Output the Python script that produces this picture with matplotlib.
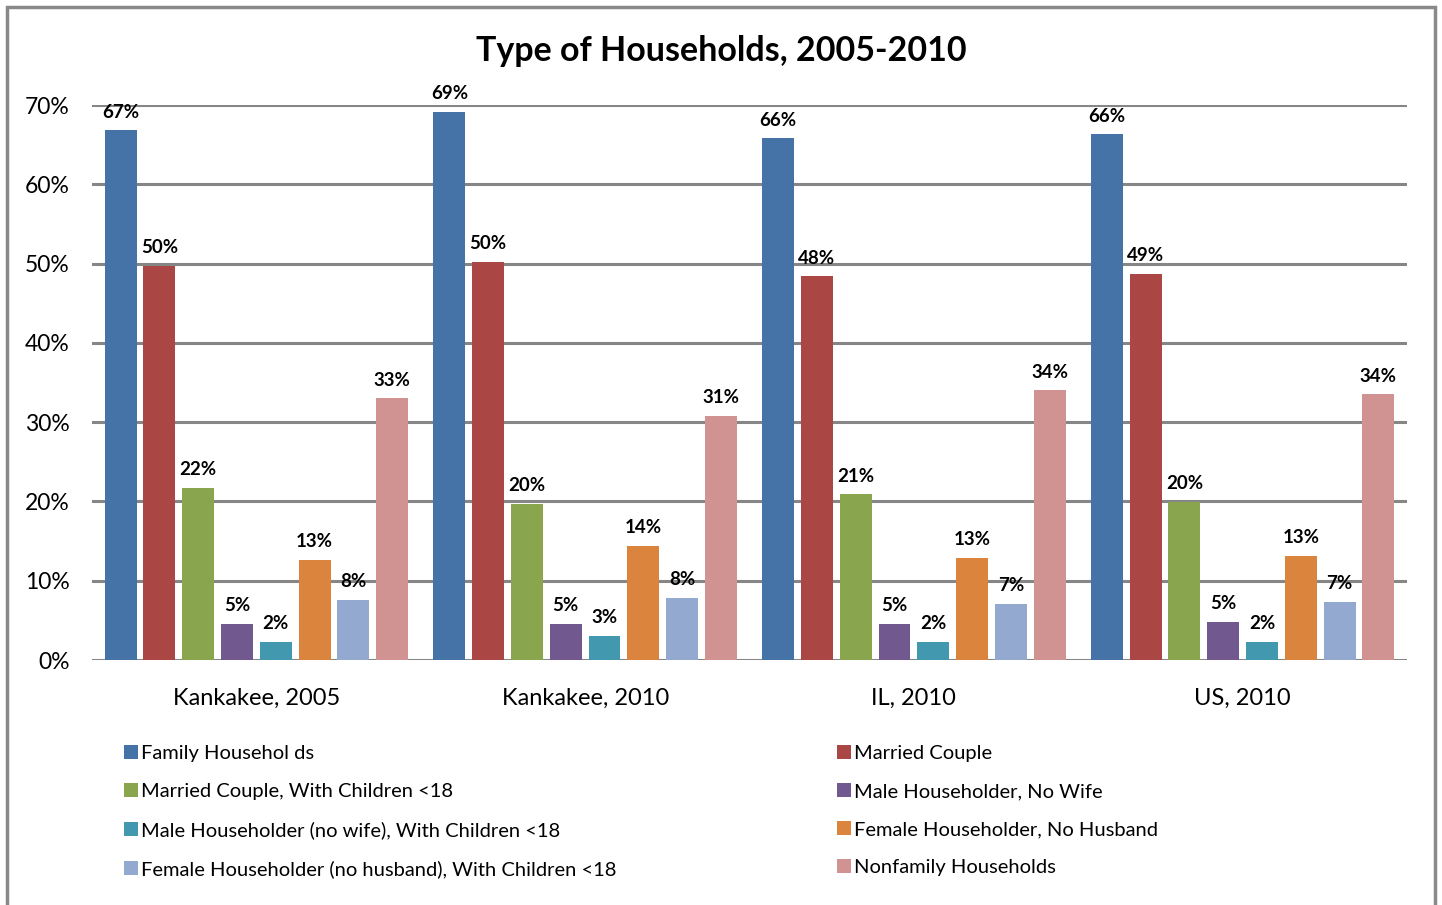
import matplotlib
matplotlib.use("Agg")
import matplotlib.pyplot as plt
from matplotlib.patches import Rectangle, Patch
import numpy as np

plt.rcParams['font.family'] = ['Lato', 'DejaVu Sans']

groups = ["Kankakee, 2005", "Kankakee, 2010", "IL, 2010", "US, 2010"]
series = [
    "Family Households",
    "Married Couple",
    "Married Couple, With Children <18",
    "Male Householder, No Wife",
    "Male Householder (no wife), With Children <18",
    "Female Householder, No Husband",
    "Female Householder (no husband), With Children <18",
    "Nonfamily Households",
]
legend_labels = [
    "Family Househol ds",
    "Married Couple",
    "Married Couple, With Children <18",
    "Male Householder, No Wife",
    "Male Householder (no wife), With Children <18",
    "Female Householder, No Husband",
    "Female Householder (no husband), With Children <18",
    "Nonfamily Households",
]
colors = ["#4572A7", "#AA4643", "#89A54E", "#71588F",
          "#4198AF", "#DB843D", "#93A9CF", "#D19392"]

# values in % (one list per series, order = groups)
family = [66.8, 69.1, 65.8, 66.3]
married = [49.7, 50.2, 48.4, 48.7]
married_kids = [21.7, 19.7, 20.9, 19.9]
male_nowife = [4.6, 4.6, 4.6, 4.8]
male_kids = [2.3, 3.0, 2.3, 2.3]
female_nohusb = [12.6, 14.4, 12.9, 13.1]
female_kids = [7.6, 7.8, 7.1, 7.3]
nonfamily = [33.0, 30.8, 34.0, 33.5]
values = [family, married, married_kids, male_nowife,
          male_kids, female_nohusb, female_kids, nonfamily]

fig = plt.figure(figsize=(14.42, 9.05), dpi=100)
ax = fig.add_axes([92/1442, 1-660/905, (1407-92)/1442, (660-105)/905])

x = np.arange(len(groups))
pitch = 0.118
width = 0.097
handles = []
for i, (vals, c) in enumerate(zip(values, colors)):
    pos = x + (i - 3.5) * pitch
    ax.bar(pos, vals, width=width, color=c, zorder=3)
    for p, v in zip(pos, vals):
        ax.annotate(f"{round(v):.0f}%", (p, v), xytext=(0, 7), textcoords="offset points",
                    ha="center", va="bottom", fontsize=13.5, fontweight="bold",
                    annotation_clip=False, zorder=4)
    handles.append(Patch(facecolor=c, edgecolor="none"))

ax.set_xlim(-0.5, 3.5)
ax.set_ylim(0, 70)
ax.set_yticks(range(0, 71, 10))
ax.set_yticklabels([f"{t}%" for t in range(0, 71, 10)], fontsize=16.5)
ax.set_xticks(x)
ax.set_xticklabels(groups, fontsize=17)
ax.tick_params(axis="y", length=0, pad=16)
ax.tick_params(axis="x", length=0, pad=20)
for s in ax.spines.values():
    s.set_visible(False)
ax.grid(axis="y", color="#868686", linewidth=2.2, zorder=0)
ax.set_axisbelow(True)

fig.text(0.5, 1-51/905, "Type of Households, 2005-2010", ha="center", va="center",
         fontsize=24.5, fontweight="bold")

leg_kw = dict(frameon=False, fontsize=14.5, handlelength=0.7, handleheight=0.7,
              handletextpad=0.15, labelspacing=1.04, borderpad=0, borderaxespad=0)
fig.legend([handles[i] for i in (0, 2, 4, 6)], [legend_labels[i] for i in (0, 2, 4, 6)],
           loc="upper left", bbox_to_anchor=(124/1442, 1-745/905), **leg_kw)
fig.legend([handles[i] for i in (1, 3, 5, 7)], [legend_labels[i] for i in (1, 3, 5, 7)],
           loc="upper left", bbox_to_anchor=(837/1442, 1-745/905), **leg_kw)

fig.patches.append(Rectangle((7/1442, -0.01), (1435-7)/1442, 1.01-7/905,
                             transform=fig.transFigure, fill=False,
                             edgecolor="#898989", linewidth=2.5))

fig.savefig("out.png", dpi=100)
